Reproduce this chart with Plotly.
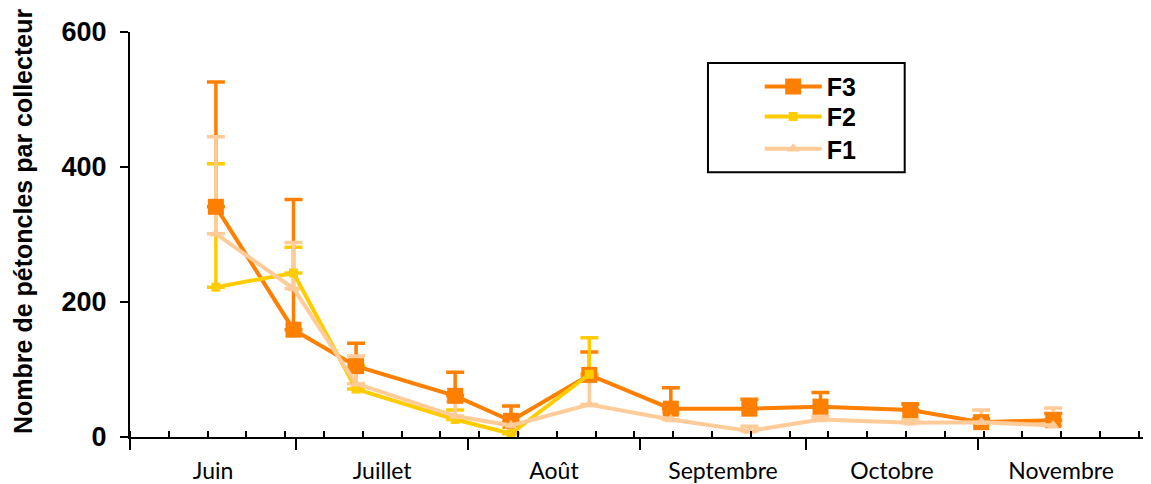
import plotly.graph_objects as go

# ---- data ----
dates = ["2003-06-16 12:00", "2003-06-30 12:00", "2003-07-11 19:00", "2003-07-29 16:00",
         "2003-08-08 18:00", "2003-08-22 21:00", "2003-09-06 14:00", "2003-09-20 18:00",
         "2003-10-03 14:00", "2003-10-19 19:00", "2003-11-01 14:00", "2003-11-14 14:00"]
f3 = [341, 159, 105, 61, 24, 92, 42, 42, 45, 40, 22, 25]
f3_err = [185, 193, 34, 35, 22, 34, 31, 14, 21, 9, 5, 10]
f2 = [222, 243, 71, 26, 5, 93]
f2_err = [183, 38, 35, 14, 10, 54]
f1 = [301, 220, 79, 31, 17, 48, 26, 9, 26, 21, 22, 17]
f1_err = [144, 68, 41, 22, 10, 43, 10, 7, 5, 5, 18, 26]

month_starts = ["2003-06-01", "2003-07-01", "2003-08-01", "2003-09-01", "2003-10-01", "2003-11-01"]
month_mids = ["2003-06-16", "2003-07-16 12:00", "2003-08-16 12:00", "2003-09-16", "2003-10-16 12:00", "2003-11-16"]
month_labels = ["Juin", "Juillet", "Août", "Septembre", "Octobre", "Novembre"]
y_ticks = [0, 200, 400, 600]
y_title = "Nombre de pétoncles par collecteur"

C3 = "#FF7F00"
C2 = "#FFCC00"
C1 = "#FFCC99"
series = [
    ("F3", f3, f3_err, C3, "square", 16, "legend"),
    ("F2", f2, f2_err, C2, "square", 9, "legend2"),
    ("F1", f1, f1_err, C1, "triangle-up", 11, "legend3"),
]

fig = go.Figure()

# error bars first (drawn beneath lines and markers)
for name, vals, err, col, sym, size, leg in series:
    n = len(vals)
    fig.add_trace(go.Scatter(
        x=dates[:n], y=vals, mode="markers", marker=dict(opacity=0, size=2, color=col),
        error_y=dict(type="data", symmetric=False, array=err, arrayminus=[0] * n,
                     color=col, thickness=3.5, width=9),
        showlegend=False, hoverinfo="skip"))

for name, vals, err, col, sym, size, leg in series:
    n = len(vals)
    fig.add_trace(go.Scatter(
        x=dates[:n], y=vals, mode="lines+markers", name=name, legend=leg,
        line=dict(color=col, width=4),
        marker=dict(symbol=sym, size=size, color=col, line=dict(width=0))))

# invisible trace for the label axis
fig.add_trace(go.Scatter(x=[month_starts[0]], y=[0], xaxis="x2", mode="markers",
                         marker=dict(opacity=0), showlegend=False, hoverinfo="skip"))

bold = dict(family="Arial, Liberation Sans", color="black", weight="bold")
x_range = ["2003-06-01", "2003-11-30 23:00"]


def leg(yc):
    return dict(x=0.621, y=yc, xanchor="left", yanchor="middle",
                bgcolor="rgba(0,0,0,0)", borderwidth=0, itemwidth=57,
                font=dict(bold, size=25))


fig.update_layout(
    width=1151, height=484,
    margin=dict(l=122, r=15, t=24, b=55, autoexpand=False),
    plot_bgcolor="white", paper_bgcolor="white",
    showlegend=True,
    legend=leg(0.8649), legend2=leg(0.7909), legend3=leg(0.7111),
    xaxis=dict(type="date", range=x_range, showgrid=False, zeroline=False, automargin=False,
               showline=True, linecolor="black", linewidth=2,
               tickmode="array", tickvals=month_starts, showticklabels=False,
               ticks="outside", ticklen=11, tickwidth=2, tickcolor="black",
               minor=dict(ticks="inside", ticklen=6, tickwidth=2, tickcolor="black",
                          dtick=7 * 86400000, tick0="2003-06-01", showgrid=False)),
    xaxis2=dict(type="date", range=x_range, overlaying="x", side="bottom", anchor="y",
                automargin=False,
                showgrid=False, zeroline=False, showline=False, ticks="",
                tickmode="array", tickvals=month_mids, ticktext=month_labels,
                ticklabelstandoff=18,
                tickfont=dict(family="Lato", size=23, color="black")),
    yaxis=dict(range=[0, 600], tickvals=y_ticks, showgrid=False, zeroline=False,
               automargin=False,
               showline=True, linecolor="black", linewidth=2,
               ticks="outside", ticklen=8, tickwidth=2, tickcolor="black",
               ticklabelstandoff=8,
               tickfont=dict(bold, size=27)),
    annotations=[dict(text=y_title, xref="paper", yref="paper", x=-0.1055, y=0.531,
                      xanchor="center", yanchor="middle", textangle=-90, showarrow=False,
                      font=dict(bold, size=25))],
    shapes=[dict(type="rect", xref="paper", yref="paper",
                 x0=0.570, x1=0.764, y0=0.654, y1=0.9235,
                 line=dict(color="black", width=2), fillcolor="rgba(0,0,0,0)")],
)

fig.write_html("out.html")
